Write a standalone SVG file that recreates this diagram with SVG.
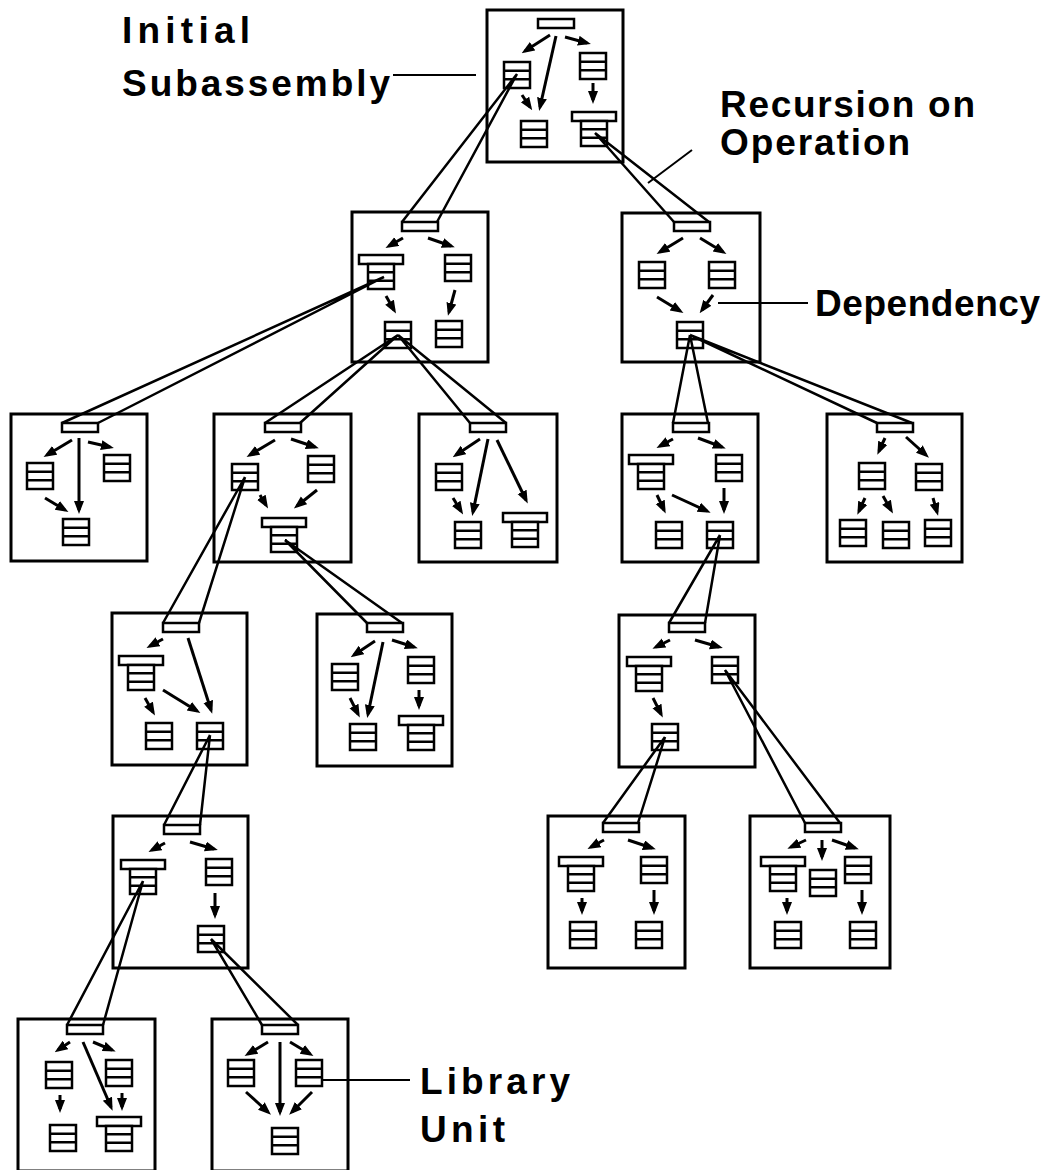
<svg xmlns="http://www.w3.org/2000/svg" width="1050" height="1170" viewBox="0 0 1050 1170">
<style>
.box{fill:#fff;stroke:#000;stroke-width:3}
.n rect,.n path{fill:#fff;stroke:#000;stroke-width:2.5}
.ar{stroke:#000;stroke-width:3;fill:none;marker-end:url(#ah)}
.w{stroke:#000;stroke-width:2.5;fill:none}
.lbl{font-family:"Liberation Sans",Arial,sans-serif;font-weight:bold;font-size:37px;fill:#000}
.ll{stroke:#000;stroke-width:2;fill:none}
</style>
<defs>
<marker id="ah" markerUnits="userSpaceOnUse" markerWidth="13" markerHeight="11" refX="9" refY="5" orient="auto"><path d="M0,0L13,5L0,10z" fill="#000"/></marker>
<g id="s" class="n"><rect width="26" height="26"/><path d="M0 8.7H26M0 17.3H26"/></g>
<g id="ls" class="n"><rect x="-9" y="-9" width="44" height="9"/><rect width="26" height="25"/><path d="M0 8.3H26M0 16.7H26"/></g>
<g id="t" class="n"><rect width="36" height="9"/></g>
</defs>
<rect width="1050" height="1170" fill="#fff"/>

<g id="A"><rect class="box" x="487" y="10" width="136" height="152"/>
<use href="#t" x="538" y="19"/><use href="#s" x="504" y="62"/><use href="#s" x="521" y="121"/><use href="#s" x="580" y="53"/><use href="#ls" x="581" y="121"/></g>
<g id="B"><rect class="box" x="352" y="212" width="136" height="150"/>
<use href="#t" x="402" y="222"/><use href="#ls" x="368" y="264"/><use href="#s" x="445" y="255"/><use href="#s" x="385" y="322"/><use href="#s" x="436" y="321"/></g>
<g id="C"><rect class="box" x="622" y="213" width="138" height="149"/>
<use href="#t" x="674" y="222"/><use href="#s" x="639" y="262"/><use href="#s" x="709" y="262"/><use href="#s" x="677" y="322"/></g>
<g id="D"><rect class="box" x="11" y="414" width="136" height="147"/>
<use href="#t" x="62" y="423"/><use href="#s" x="27" y="463"/><use href="#s" x="104" y="455"/><use href="#s" x="63" y="519"/></g>
<g id="E"><rect class="box" x="214" y="414" width="137" height="148"/>
<use href="#t" x="265" y="423"/><use href="#s" x="232" y="464"/><use href="#s" x="308" y="456"/><use href="#ls" x="271" y="527"/></g>
<g id="F"><rect class="box" x="419" y="414" width="138" height="148"/>
<use href="#t" x="470" y="423"/><use href="#s" x="436" y="464"/><use href="#s" x="455" y="522"/><use href="#ls" x="512" y="522"/></g>
<g id="G"><rect class="box" x="622" y="414" width="136" height="148"/>
<use href="#t" x="673" y="423"/><use href="#ls" x="638" y="464"/><use href="#s" x="716" y="455"/><use href="#s" x="656" y="522"/><use href="#s" x="707" y="522"/></g>
<g id="H"><rect class="box" x="827" y="414" width="135" height="148"/>
<use href="#t" x="877" y="423"/><use href="#s" x="859" y="463"/><use href="#s" x="916" y="464"/><use href="#s" x="840" y="520"/><use href="#s" x="883" y="522"/><use href="#s" x="925" y="520"/></g>
<g id="I"><rect class="box" x="112" y="613" width="135" height="152"/>
<use href="#t" x="163" y="623"/><use href="#ls" x="128" y="665"/><use href="#s" x="146" y="723"/><use href="#s" x="197" y="723"/></g>
<g id="J"><rect class="box" x="317" y="614" width="135" height="152"/>
<use href="#t" x="367" y="623"/><use href="#s" x="332" y="664"/><use href="#s" x="408" y="657"/><use href="#s" x="350" y="724"/><use href="#ls" x="408" y="725"/></g>
<g id="K"><rect class="box" x="619" y="615" width="136" height="152"/>
<use href="#t" x="669" y="623"/><use href="#ls" x="636" y="666"/><use href="#s" x="712" y="657"/><use href="#s" x="652" y="724"/></g>
<g id="L"><rect class="box" x="113" y="816" width="135" height="152"/>
<use href="#t" x="164" y="825"/><use href="#ls" x="130" y="869"/><use href="#s" x="206" y="859"/><use href="#s" x="198" y="926"/></g>
<g id="M"><rect class="box" x="548" y="816" width="137" height="152"/>
<use href="#t" x="603" y="823"/><use href="#ls" x="568" y="866"/><use href="#s" x="641" y="857"/><use href="#s" x="570" y="922"/><use href="#s" x="636" y="922"/></g>
<g id="N"><rect class="box" x="750" y="816" width="140" height="152"/>
<use href="#t" x="805" y="823"/><use href="#ls" x="770" y="866"/><use href="#s" x="810" y="870"/><use href="#s" x="845" y="857"/><use href="#s" x="775" y="922"/><use href="#s" x="850" y="922"/></g>
<g id="O"><rect class="box" x="18" y="1019" width="137" height="152"/>
<use href="#t" x="67" y="1025"/><use href="#s" x="46" y="1062"/><use href="#s" x="106" y="1060"/><use href="#s" x="50" y="1125"/><use href="#ls" x="106" y="1126"/></g>
<g id="P"><rect class="box" x="212" y="1019" width="136" height="152"/>
<use href="#t" x="262" y="1025"/><use href="#s" x="228" y="1060"/><use href="#s" x="296" y="1060"/><use href="#s" x="272" y="1128"/></g>

<g id="connectors">
<path class="w" d="M517 74L402 222M517 74L437 222M595 133L674 222M595 133L709 222M384 277L62 423M384 277L98 423M398 335L265 423M398 335L300 423M398 335L470 423M398 335L506 423M690 335L673 423M690 335L708 423M690 335L877 423M690 335L912 423M245 477L163 623M245 477L199 623M285 540L367 623M285 540L402 623M720 535L669 623M720 535L705 623M210 735L164 825M210 735L200 825M665 737L603 823M665 737L638 823M725 670L805 823M725 670L840 823M143 881L67 1025M143 881L103 1025M211 939L262 1025M211 939L298 1025"/>
<path class="ar" d="M550 35L525 51"/><path class="ar" d="M556 36L540 107"/><path class="ar" d="M565 37L587 43"/><path class="ar" d="M522 95L530 107"/><path class="ar" d="M593 83L593 100"/>
<path class="ar" d="M403 238L389 246"/><path class="ar" d="M428 238L451 246"/><path class="ar" d="M386 296L394 310"/><path class="ar" d="M455 290L449 312"/>
<path class="ar" d="M683 238L660 252"/><path class="ar" d="M700 238L723 252"/><path class="ar" d="M657 297L680 311"/><path class="ar" d="M713 295L702 310"/>
<path class="ar" d="M72 440L47 455"/><path class="ar" d="M88 442L110 447"/><path class="ar" d="M79 438L79 510"/><path class="ar" d="M45 498L65 510"/>
<path class="ar" d="M275 440L250 455"/><path class="ar" d="M291 439L315 447"/><path class="ar" d="M260 495L266 505"/><path class="ar" d="M317 490L297 506"/>
<path class="ar" d="M480 439L456 455"/><path class="ar" d="M488 439L473 512"/><path class="ar" d="M497 440L526 500"/><path class="ar" d="M453 498L461 511"/>
<path class="ar" d="M673 439L660 446"/><path class="ar" d="M698 438L722 447"/><path class="ar" d="M657 495L664 510"/><path class="ar" d="M672 495L707 511"/><path class="ar" d="M724 488L724 510"/>
<path class="ar" d="M885 438L879 451"/><path class="ar" d="M906 437L926 455"/><path class="ar" d="M865 498L859 511"/><path class="ar" d="M883 496L891 510"/><path class="ar" d="M933 498L937 512"/>
<path class="ar" d="M163 639L150 646"/><path class="ar" d="M188 638L211 710"/><path class="ar" d="M145 698L153 712"/><path class="ar" d="M163 690L197 711"/>
<path class="ar" d="M375 641L354 655"/><path class="ar" d="M383 642L368 714"/><path class="ar" d="M392 640L414 647"/><path class="ar" d="M350 698L358 714"/><path class="ar" d="M419 690L419 706"/>
<path class="ar" d="M670 640L656 647"/><path class="ar" d="M695 640L719 647"/><path class="ar" d="M653 698L661 714"/>
<path class="ar" d="M165 843L152 850"/><path class="ar" d="M190 842L214 849"/><path class="ar" d="M215 893L215 915"/>
<path class="ar" d="M604 840L591 847"/><path class="ar" d="M628 840L652 848"/><path class="ar" d="M582 898L582 911"/><path class="ar" d="M654 890L654 911"/>
<path class="ar" d="M806 840L791 847"/><path class="ar" d="M822 840L822 857"/><path class="ar" d="M832 840L855 848"/><path class="ar" d="M787 898L787 911"/><path class="ar" d="M862 890L862 911"/>
<path class="ar" d="M70 1042L58 1050"/><path class="ar" d="M93 1042L112 1050"/><path class="ar" d="M83 1042L111 1107"/><path class="ar" d="M60 1095L60 1109"/><path class="ar" d="M122 1093L122 1107"/>
<path class="ar" d="M268 1042L248 1054"/><path class="ar" d="M290 1042L310 1054"/><path class="ar" d="M280 1042L280 1112"/><path class="ar" d="M246 1092L268 1112"/><path class="ar" d="M312 1092L292 1112"/>
</g>

<g id="labels">
<text class="lbl" x="122" y="43" textLength="128" lengthAdjust="spacing">Initial</text>
<text class="lbl" x="122" y="96" textLength="268" lengthAdjust="spacing">Subassembly</text>
<text class="lbl" x="720" y="117" textLength="255" lengthAdjust="spacing">Recursion  on</text>
<text class="lbl" x="720" y="155" textLength="190" lengthAdjust="spacing">Operation</text>
<text class="lbl" x="815" y="316" textLength="225" lengthAdjust="spacing">Dependency</text>
<text class="lbl" x="420" y="1094" textLength="150" lengthAdjust="spacing">Library</text>
<text class="lbl" x="420" y="1142" textLength="85" lengthAdjust="spacing">Unit</text>
<path class="ll" d="M393 75H476M648 183L692 150M718 303H808M323 1080H410"/>
</g>
</svg>
